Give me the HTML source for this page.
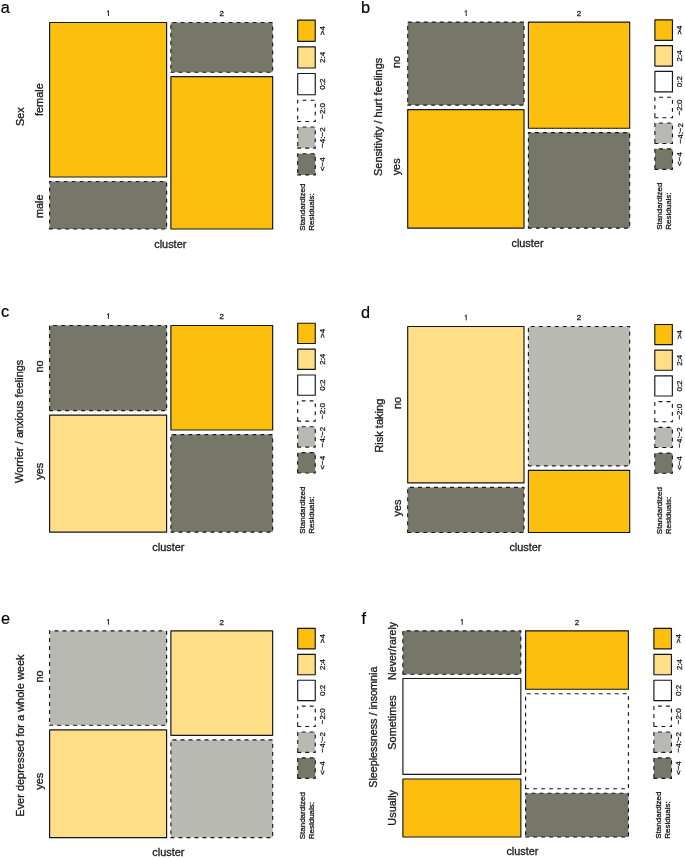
<!DOCTYPE html>
<html><head><meta charset="utf-8"><style>
html,body{margin:0;padding:0;background:#fff;}
svg{display:block;font-family:"Liberation Sans",sans-serif;}
</style></head><body>
<svg width="685" height="859" viewBox="0 0 685 859">
<defs><filter id="bl" x="0" y="0" width="685" height="859" filterUnits="userSpaceOnUse"><feGaussianBlur stdDeviation="0.3"/></filter></defs>
<rect width="685" height="859" fill="#fff"/>
<g filter="url(#bl)">
<text x="0.7" y="13.2" font-size="16.3" text-anchor="start" fill="#000" stroke="#000" stroke-width="0.20">a</text>
<path d="M49.60 177.00H166.60V22.50H49.60Z" fill="#FDBF11" stroke="#161616" stroke-width="1.15" stroke-linejoin="round"/>
<path d="M49.60 229.00H166.60V181.50H49.60Z" fill="#777769" stroke="#161616" stroke-width="1.15" stroke-linejoin="round" stroke-dasharray="3 5" stroke-linecap="round"/>
<path d="M170.90 72.20H272.65V22.50H170.90Z" fill="#777769" stroke="#161616" stroke-width="1.15" stroke-linejoin="round" stroke-dasharray="3 5" stroke-linecap="round"/>
<path d="M170.90 229.00H272.65V76.60H170.90Z" fill="#FDBF11" stroke="#161616" stroke-width="1.15" stroke-linejoin="round"/>
<path d="M108.45 16.00V10.45" fill="none" stroke="#1a1a1a" stroke-width="0.95"/>
<path d="M108.75 10.40Q108.35 11.40 106.90 11.65" fill="none" stroke="#1a1a1a" stroke-width="0.85"/>
<text x="221.77499999999998" y="16.0" font-size="8" text-anchor="middle" fill="#1a1a1a" stroke="#1a1a1a" stroke-width="0.30">2</text>
<text x="170.3" y="247.8" font-size="10.9" text-anchor="middle" fill="#1a1a1a" stroke="#1a1a1a" stroke-width="0.31">cluster</text>
<text x="23.6" y="116.6" font-size="10.9" text-anchor="middle" transform="rotate(-90 23.6 116.6)" fill="#1a1a1a" stroke="#1a1a1a" stroke-width="0.31">Sex</text>
<text x="43.0" y="99.6" font-size="10.9" text-anchor="middle" transform="rotate(-90 43.0 99.6)" fill="#1a1a1a" stroke="#1a1a1a" stroke-width="0.31">female</text>
<text x="43.0" y="206.2" font-size="10.9" text-anchor="middle" transform="rotate(-90 43.0 206.2)" fill="#1a1a1a" stroke="#1a1a1a" stroke-width="0.31">male</text>
<path d="M297.70 41.30H315.25V20.10H297.70Z" fill="#FDBF11" stroke="#161616" stroke-width="1.15" stroke-linejoin="round"/>
<text x="325.3" y="30.700000000000003" font-size="8" text-anchor="middle" transform="rotate(-90 325.3 30.700000000000003)" fill="#1a1a1a" stroke="#1a1a1a" stroke-width="0.30">&gt;4</text>
<path d="M297.70 68.02H315.25V46.82H297.70Z" fill="#FEDF87" stroke="#161616" stroke-width="1.15" stroke-linejoin="round"/>
<text x="325.3" y="57.42" font-size="8" text-anchor="middle" transform="rotate(-90 325.3 57.42)" fill="#1a1a1a" stroke="#1a1a1a" stroke-width="0.30">2:4</text>
<path d="M297.70 94.74H315.25V73.54H297.70Z" fill="#FFFFFF" stroke="#161616" stroke-width="1.15" stroke-linejoin="round"/>
<text x="325.3" y="84.13999999999999" font-size="8" text-anchor="middle" transform="rotate(-90 325.3 84.13999999999999)" fill="#1a1a1a" stroke="#1a1a1a" stroke-width="0.30">0:2</text>
<path d="M297.70 121.46H315.25V100.26H297.70Z" fill="#FFFFFF" stroke="#161616" stroke-width="1.15" stroke-linejoin="round" stroke-dasharray="3 5" stroke-linecap="round"/>
<text x="325.3" y="110.85999999999999" font-size="8" text-anchor="middle" transform="rotate(-90 325.3 110.85999999999999)" fill="#1a1a1a" stroke="#1a1a1a" stroke-width="0.30">−2:0</text>
<path d="M297.70 148.18H315.25V126.98H297.70Z" fill="#B9B9B4" stroke="#161616" stroke-width="1.15" stroke-linejoin="round" stroke-dasharray="3 5" stroke-linecap="round"/>
<text x="325.3" y="137.57999999999998" font-size="8" text-anchor="middle" transform="rotate(-90 325.3 137.57999999999998)" fill="#1a1a1a" stroke="#1a1a1a" stroke-width="0.30">−4:−2</text>
<path d="M297.70 174.90H315.25V153.70H297.70Z" fill="#777769" stroke="#161616" stroke-width="1.15" stroke-linejoin="round" stroke-dasharray="3 5" stroke-linecap="round"/>
<text x="325.3" y="164.29999999999998" font-size="8" text-anchor="middle" transform="rotate(-90 325.3 164.29999999999998)" fill="#1a1a1a" stroke="#1a1a1a" stroke-width="0.30">&lt;−4</text>
<text x="305.0" y="230.7" font-size="8" text-anchor="start" transform="rotate(-90 305.0 230.7)" fill="#1a1a1a" stroke="#1a1a1a" stroke-width="0.30">Standardized</text>
<text x="314.2" y="230.7" font-size="8" text-anchor="start" transform="rotate(-90 314.2 230.7)" fill="#1a1a1a" stroke="#1a1a1a" stroke-width="0.30">Residuals:</text>
<text x="361.0" y="13.2" font-size="16.3" text-anchor="start" fill="#000" stroke="#000" stroke-width="0.20">b</text>
<path d="M407.70 105.10H524.00V22.10H407.70Z" fill="#777769" stroke="#161616" stroke-width="1.15" stroke-linejoin="round" stroke-dasharray="3 5" stroke-linecap="round"/>
<path d="M407.70 228.05H524.00V109.60H407.70Z" fill="#FDBF11" stroke="#161616" stroke-width="1.15" stroke-linejoin="round"/>
<path d="M528.40 128.20H629.70V22.10H528.40Z" fill="#FDBF11" stroke="#161616" stroke-width="1.15" stroke-linejoin="round"/>
<path d="M528.40 228.05H629.70V132.60H528.40Z" fill="#777769" stroke="#161616" stroke-width="1.15" stroke-linejoin="round" stroke-dasharray="3 5" stroke-linecap="round"/>
<path d="M466.20 16.00V10.45" fill="none" stroke="#1a1a1a" stroke-width="0.95"/>
<path d="M466.50 10.40Q466.10 11.40 464.65 11.65" fill="none" stroke="#1a1a1a" stroke-width="0.85"/>
<text x="579.05" y="16.0" font-size="8" text-anchor="middle" fill="#1a1a1a" stroke="#1a1a1a" stroke-width="0.30">2</text>
<text x="527.5" y="246.5" font-size="10.9" text-anchor="middle" fill="#1a1a1a" stroke="#1a1a1a" stroke-width="0.31">cluster</text>
<text x="382.0" y="116.85" font-size="10.98" text-anchor="middle" transform="rotate(-90 382.0 116.85)" fill="#1a1a1a" stroke="#1a1a1a" stroke-width="0.31">Sensitivity / hurt feelings</text>
<text x="400.1" y="62" font-size="10.9" text-anchor="middle" transform="rotate(-90 400.1 62)" fill="#1a1a1a" stroke="#1a1a1a" stroke-width="0.31">no</text>
<text x="400.1" y="166.85" font-size="10.9" text-anchor="middle" transform="rotate(-90 400.1 166.85)" fill="#1a1a1a" stroke="#1a1a1a" stroke-width="0.31">yes</text>
<path d="M654.90 40.30H672.45V19.80H654.90Z" fill="#FDBF11" stroke="#161616" stroke-width="1.15" stroke-linejoin="round"/>
<text x="682.5" y="30.05" font-size="8" text-anchor="middle" transform="rotate(-90 682.5 30.05)" fill="#1a1a1a" stroke="#1a1a1a" stroke-width="0.30">&gt;4</text>
<path d="M654.90 66.10H672.45V45.60H654.90Z" fill="#FEDF87" stroke="#161616" stroke-width="1.15" stroke-linejoin="round"/>
<text x="682.5" y="55.85" font-size="8" text-anchor="middle" transform="rotate(-90 682.5 55.85)" fill="#1a1a1a" stroke="#1a1a1a" stroke-width="0.30">2:4</text>
<path d="M654.90 91.90H672.45V71.40H654.90Z" fill="#FFFFFF" stroke="#161616" stroke-width="1.15" stroke-linejoin="round"/>
<text x="682.5" y="81.65" font-size="8" text-anchor="middle" transform="rotate(-90 682.5 81.65)" fill="#1a1a1a" stroke="#1a1a1a" stroke-width="0.30">0:2</text>
<path d="M654.90 117.70H672.45V97.20H654.90Z" fill="#FFFFFF" stroke="#161616" stroke-width="1.15" stroke-linejoin="round" stroke-dasharray="3 5" stroke-linecap="round"/>
<text x="682.5" y="107.45" font-size="8" text-anchor="middle" transform="rotate(-90 682.5 107.45)" fill="#1a1a1a" stroke="#1a1a1a" stroke-width="0.30">−2:0</text>
<path d="M654.90 143.50H672.45V123.00H654.90Z" fill="#B9B9B4" stroke="#161616" stroke-width="1.15" stroke-linejoin="round" stroke-dasharray="3 5" stroke-linecap="round"/>
<text x="682.5" y="133.25" font-size="8" text-anchor="middle" transform="rotate(-90 682.5 133.25)" fill="#1a1a1a" stroke="#1a1a1a" stroke-width="0.30">−4:−2</text>
<path d="M654.90 169.30H672.45V148.80H654.90Z" fill="#777769" stroke="#161616" stroke-width="1.15" stroke-linejoin="round" stroke-dasharray="3 5" stroke-linecap="round"/>
<text x="682.5" y="159.05" font-size="8" text-anchor="middle" transform="rotate(-90 682.5 159.05)" fill="#1a1a1a" stroke="#1a1a1a" stroke-width="0.30">&lt;−4</text>
<text x="662.1999999999999" y="229.75" font-size="8" text-anchor="start" transform="rotate(-90 662.1999999999999 229.75)" fill="#1a1a1a" stroke="#1a1a1a" stroke-width="0.30">Standardized</text>
<text x="671.4" y="229.75" font-size="8" text-anchor="start" transform="rotate(-90 671.4 229.75)" fill="#1a1a1a" stroke="#1a1a1a" stroke-width="0.30">Residuals:</text>
<text x="1.0" y="316.6" font-size="16.3" text-anchor="start" fill="#000" stroke="#000" stroke-width="0.20">c</text>
<path d="M49.60 410.60H166.60V325.50H49.60Z" fill="#777769" stroke="#161616" stroke-width="1.15" stroke-linejoin="round" stroke-dasharray="3 5" stroke-linecap="round"/>
<path d="M49.60 532.10H166.60V415.10H49.60Z" fill="#FEDF87" stroke="#161616" stroke-width="1.15" stroke-linejoin="round"/>
<path d="M170.90 430.00H272.65V325.50H170.90Z" fill="#FDBF11" stroke="#161616" stroke-width="1.15" stroke-linejoin="round"/>
<path d="M170.90 532.10H272.65V434.60H170.90Z" fill="#777769" stroke="#161616" stroke-width="1.15" stroke-linejoin="round" stroke-dasharray="3 5" stroke-linecap="round"/>
<path d="M108.45 319.00V313.45" fill="none" stroke="#1a1a1a" stroke-width="0.95"/>
<path d="M108.75 313.40Q108.35 314.40 106.90 314.65" fill="none" stroke="#1a1a1a" stroke-width="0.85"/>
<text x="221.77499999999998" y="319" font-size="8" text-anchor="middle" fill="#1a1a1a" stroke="#1a1a1a" stroke-width="0.30">2</text>
<text x="168.4" y="550.6" font-size="10.9" text-anchor="middle" fill="#1a1a1a" stroke="#1a1a1a" stroke-width="0.31">cluster</text>
<text x="23.4" y="421.3" font-size="10.95" text-anchor="middle" transform="rotate(-90 23.4 421.3)" fill="#1a1a1a" stroke="#1a1a1a" stroke-width="0.31">Worrier / anxious feelings</text>
<text x="42.8" y="366.5" font-size="10.9" text-anchor="middle" transform="rotate(-90 42.8 366.5)" fill="#1a1a1a" stroke="#1a1a1a" stroke-width="0.31">no</text>
<text x="42.8" y="471.2" font-size="10.9" text-anchor="middle" transform="rotate(-90 42.8 471.2)" fill="#1a1a1a" stroke="#1a1a1a" stroke-width="0.31">yes</text>
<path d="M297.70 343.50H315.25V323.20H297.70Z" fill="#FDBF11" stroke="#161616" stroke-width="1.15" stroke-linejoin="round"/>
<text x="325.3" y="333.34999999999997" font-size="8" text-anchor="middle" transform="rotate(-90 325.3 333.34999999999997)" fill="#1a1a1a" stroke="#1a1a1a" stroke-width="0.30">&gt;4</text>
<path d="M297.70 369.39H315.25V349.09H297.70Z" fill="#FEDF87" stroke="#161616" stroke-width="1.15" stroke-linejoin="round"/>
<text x="325.3" y="359.23999999999995" font-size="8" text-anchor="middle" transform="rotate(-90 325.3 359.23999999999995)" fill="#1a1a1a" stroke="#1a1a1a" stroke-width="0.30">2:4</text>
<path d="M297.70 395.28H315.25V374.98H297.70Z" fill="#FFFFFF" stroke="#161616" stroke-width="1.15" stroke-linejoin="round"/>
<text x="325.3" y="385.13" font-size="8" text-anchor="middle" transform="rotate(-90 325.3 385.13)" fill="#1a1a1a" stroke="#1a1a1a" stroke-width="0.30">0:2</text>
<path d="M297.70 421.17H315.25V400.87H297.70Z" fill="#FFFFFF" stroke="#161616" stroke-width="1.15" stroke-linejoin="round" stroke-dasharray="3 5" stroke-linecap="round"/>
<text x="325.3" y="411.02" font-size="8" text-anchor="middle" transform="rotate(-90 325.3 411.02)" fill="#1a1a1a" stroke="#1a1a1a" stroke-width="0.30">−2:0</text>
<path d="M297.70 447.06H315.25V426.76H297.70Z" fill="#B9B9B4" stroke="#161616" stroke-width="1.15" stroke-linejoin="round" stroke-dasharray="3 5" stroke-linecap="round"/>
<text x="325.3" y="436.90999999999997" font-size="8" text-anchor="middle" transform="rotate(-90 325.3 436.90999999999997)" fill="#1a1a1a" stroke="#1a1a1a" stroke-width="0.30">−4:−2</text>
<path d="M297.70 472.95H315.25V452.65H297.70Z" fill="#777769" stroke="#161616" stroke-width="1.15" stroke-linejoin="round" stroke-dasharray="3 5" stroke-linecap="round"/>
<text x="325.3" y="462.79999999999995" font-size="8" text-anchor="middle" transform="rotate(-90 325.3 462.79999999999995)" fill="#1a1a1a" stroke="#1a1a1a" stroke-width="0.30">&lt;−4</text>
<text x="305.0" y="533.8000000000001" font-size="8" text-anchor="start" transform="rotate(-90 305.0 533.8000000000001)" fill="#1a1a1a" stroke="#1a1a1a" stroke-width="0.30">Standardized</text>
<text x="314.2" y="533.8000000000001" font-size="8" text-anchor="start" transform="rotate(-90 314.2 533.8000000000001)" fill="#1a1a1a" stroke="#1a1a1a" stroke-width="0.30">Residuals:</text>
<text x="361.0" y="317.5" font-size="16.3" text-anchor="start" fill="#000" stroke="#000" stroke-width="0.20">d</text>
<path d="M407.70 482.90H524.00V326.50H407.70Z" fill="#FEDF87" stroke="#161616" stroke-width="1.15" stroke-linejoin="round"/>
<path d="M407.70 532.50H524.00V487.40H407.70Z" fill="#777769" stroke="#161616" stroke-width="1.15" stroke-linejoin="round" stroke-dasharray="3 5" stroke-linecap="round"/>
<path d="M528.40 465.80H629.70V326.50H528.40Z" fill="#B9B9B4" stroke="#161616" stroke-width="1.15" stroke-linejoin="round" stroke-dasharray="3 5" stroke-linecap="round"/>
<path d="M528.40 532.50H629.70V470.40H528.40Z" fill="#FDBF11" stroke="#161616" stroke-width="1.15" stroke-linejoin="round"/>
<path d="M466.20 320.40V314.85" fill="none" stroke="#1a1a1a" stroke-width="0.95"/>
<path d="M466.50 314.80Q466.10 315.80 464.65 316.05" fill="none" stroke="#1a1a1a" stroke-width="0.85"/>
<text x="579.05" y="320.4" font-size="8" text-anchor="middle" fill="#1a1a1a" stroke="#1a1a1a" stroke-width="0.30">2</text>
<text x="525.45" y="550.65" font-size="10.9" text-anchor="middle" fill="#1a1a1a" stroke="#1a1a1a" stroke-width="0.31">cluster</text>
<text x="382.7" y="425.7" font-size="11.04" text-anchor="middle" transform="rotate(-90 382.7 425.7)" fill="#1a1a1a" stroke="#1a1a1a" stroke-width="0.31">Risk taking</text>
<text x="400.8" y="403" font-size="10.9" text-anchor="middle" transform="rotate(-90 400.8 403)" fill="#1a1a1a" stroke="#1a1a1a" stroke-width="0.31">no</text>
<text x="400.8" y="508" font-size="10.9" text-anchor="middle" transform="rotate(-90 400.8 508)" fill="#1a1a1a" stroke="#1a1a1a" stroke-width="0.31">yes</text>
<path d="M654.80 344.55H672.35V324.45H654.80Z" fill="#FDBF11" stroke="#161616" stroke-width="1.15" stroke-linejoin="round"/>
<text x="682.4" y="334.5" font-size="8" text-anchor="middle" transform="rotate(-90 682.4 334.5)" fill="#1a1a1a" stroke="#1a1a1a" stroke-width="0.30">&gt;4</text>
<path d="M654.80 370.29H672.35V350.19H654.80Z" fill="#FEDF87" stroke="#161616" stroke-width="1.15" stroke-linejoin="round"/>
<text x="682.4" y="360.24" font-size="8" text-anchor="middle" transform="rotate(-90 682.4 360.24)" fill="#1a1a1a" stroke="#1a1a1a" stroke-width="0.30">2:4</text>
<path d="M654.80 396.03H672.35V375.93H654.80Z" fill="#FFFFFF" stroke="#161616" stroke-width="1.15" stroke-linejoin="round"/>
<text x="682.4" y="385.98" font-size="8" text-anchor="middle" transform="rotate(-90 682.4 385.98)" fill="#1a1a1a" stroke="#1a1a1a" stroke-width="0.30">0:2</text>
<path d="M654.80 421.77H672.35V401.67H654.80Z" fill="#FFFFFF" stroke="#161616" stroke-width="1.15" stroke-linejoin="round" stroke-dasharray="3 5" stroke-linecap="round"/>
<text x="682.4" y="411.71999999999997" font-size="8" text-anchor="middle" transform="rotate(-90 682.4 411.71999999999997)" fill="#1a1a1a" stroke="#1a1a1a" stroke-width="0.30">−2:0</text>
<path d="M654.80 447.51H672.35V427.41H654.80Z" fill="#B9B9B4" stroke="#161616" stroke-width="1.15" stroke-linejoin="round" stroke-dasharray="3 5" stroke-linecap="round"/>
<text x="682.4" y="437.46" font-size="8" text-anchor="middle" transform="rotate(-90 682.4 437.46)" fill="#1a1a1a" stroke="#1a1a1a" stroke-width="0.30">−4:−2</text>
<path d="M654.80 473.25H672.35V453.15H654.80Z" fill="#777769" stroke="#161616" stroke-width="1.15" stroke-linejoin="round" stroke-dasharray="3 5" stroke-linecap="round"/>
<text x="682.4" y="463.2" font-size="8" text-anchor="middle" transform="rotate(-90 682.4 463.2)" fill="#1a1a1a" stroke="#1a1a1a" stroke-width="0.30">&lt;−4</text>
<text x="662.0999999999999" y="534.2" font-size="8" text-anchor="start" transform="rotate(-90 662.0999999999999 534.2)" fill="#1a1a1a" stroke="#1a1a1a" stroke-width="0.30">Standardized</text>
<text x="671.3" y="534.2" font-size="8" text-anchor="start" transform="rotate(-90 671.3 534.2)" fill="#1a1a1a" stroke="#1a1a1a" stroke-width="0.30">Residuals:</text>
<text x="1.0" y="624.2" font-size="16.3" text-anchor="start" fill="#000" stroke="#000" stroke-width="0.20">e</text>
<path d="M49.60 725.20H166.60V630.85H49.60Z" fill="#B9B9B4" stroke="#161616" stroke-width="1.15" stroke-linejoin="round" stroke-dasharray="3 5" stroke-linecap="round"/>
<path d="M49.60 837.60H166.60V729.80H49.60Z" fill="#FEDF87" stroke="#161616" stroke-width="1.15" stroke-linejoin="round"/>
<path d="M170.90 735.30H272.65V630.85H170.90Z" fill="#FEDF87" stroke="#161616" stroke-width="1.15" stroke-linejoin="round"/>
<path d="M170.90 837.60H272.65V739.90H170.90Z" fill="#B9B9B4" stroke="#161616" stroke-width="1.15" stroke-linejoin="round" stroke-dasharray="3 5" stroke-linecap="round"/>
<path d="M108.45 624.70V619.15" fill="none" stroke="#1a1a1a" stroke-width="0.95"/>
<path d="M108.75 619.10Q108.35 620.10 106.90 620.35" fill="none" stroke="#1a1a1a" stroke-width="0.85"/>
<text x="221.77499999999998" y="624.7" font-size="8" text-anchor="middle" fill="#1a1a1a" stroke="#1a1a1a" stroke-width="0.30">2</text>
<text x="168.4" y="855.6" font-size="10.9" text-anchor="middle" fill="#1a1a1a" stroke="#1a1a1a" stroke-width="0.31">cluster</text>
<text x="23.6" y="735.6" font-size="10.98" text-anchor="middle" transform="rotate(-90 23.6 735.6)" fill="#1a1a1a" stroke="#1a1a1a" stroke-width="0.31">Ever depressed for a whole week</text>
<text x="42.8" y="676.4" font-size="10.9" text-anchor="middle" transform="rotate(-90 42.8 676.4)" fill="#1a1a1a" stroke="#1a1a1a" stroke-width="0.31">no</text>
<text x="42.8" y="781.3" font-size="10.9" text-anchor="middle" transform="rotate(-90 42.8 781.3)" fill="#1a1a1a" stroke="#1a1a1a" stroke-width="0.31">yes</text>
<path d="M297.70 648.80H315.25V628.40H297.70Z" fill="#FDBF11" stroke="#161616" stroke-width="1.15" stroke-linejoin="round"/>
<text x="325.3" y="638.6" font-size="8" text-anchor="middle" transform="rotate(-90 325.3 638.6)" fill="#1a1a1a" stroke="#1a1a1a" stroke-width="0.30">&gt;4</text>
<path d="M297.70 674.70H315.25V654.30H297.70Z" fill="#FEDF87" stroke="#161616" stroke-width="1.15" stroke-linejoin="round"/>
<text x="325.3" y="664.5" font-size="8" text-anchor="middle" transform="rotate(-90 325.3 664.5)" fill="#1a1a1a" stroke="#1a1a1a" stroke-width="0.30">2:4</text>
<path d="M297.70 700.60H315.25V680.20H297.70Z" fill="#FFFFFF" stroke="#161616" stroke-width="1.15" stroke-linejoin="round"/>
<text x="325.3" y="690.4" font-size="8" text-anchor="middle" transform="rotate(-90 325.3 690.4)" fill="#1a1a1a" stroke="#1a1a1a" stroke-width="0.30">0:2</text>
<path d="M297.70 726.50H315.25V706.10H297.70Z" fill="#FFFFFF" stroke="#161616" stroke-width="1.15" stroke-linejoin="round" stroke-dasharray="3 5" stroke-linecap="round"/>
<text x="325.3" y="716.3" font-size="8" text-anchor="middle" transform="rotate(-90 325.3 716.3)" fill="#1a1a1a" stroke="#1a1a1a" stroke-width="0.30">−2:0</text>
<path d="M297.70 752.40H315.25V732.00H297.70Z" fill="#B9B9B4" stroke="#161616" stroke-width="1.15" stroke-linejoin="round" stroke-dasharray="3 5" stroke-linecap="round"/>
<text x="325.3" y="742.2" font-size="8" text-anchor="middle" transform="rotate(-90 325.3 742.2)" fill="#1a1a1a" stroke="#1a1a1a" stroke-width="0.30">−4:−2</text>
<path d="M297.70 778.30H315.25V757.90H297.70Z" fill="#777769" stroke="#161616" stroke-width="1.15" stroke-linejoin="round" stroke-dasharray="3 5" stroke-linecap="round"/>
<text x="325.3" y="768.1" font-size="8" text-anchor="middle" transform="rotate(-90 325.3 768.1)" fill="#1a1a1a" stroke="#1a1a1a" stroke-width="0.30">&lt;−4</text>
<text x="305.0" y="839.3000000000001" font-size="8" text-anchor="start" transform="rotate(-90 305.0 839.3000000000001)" fill="#1a1a1a" stroke="#1a1a1a" stroke-width="0.30">Standardized</text>
<text x="314.2" y="839.3000000000001" font-size="8" text-anchor="start" transform="rotate(-90 314.2 839.3000000000001)" fill="#1a1a1a" stroke="#1a1a1a" stroke-width="0.30">Residuals:</text>
<text x="361.6" y="624.1" font-size="16.3" text-anchor="start" fill="#000" stroke="#000" stroke-width="0.20">f</text>
<path d="M402.90 674.20H520.85V630.85H402.90Z" fill="#777769" stroke="#161616" stroke-width="1.15" stroke-linejoin="round" stroke-dasharray="3 5" stroke-linecap="round"/>
<path d="M402.90 774.40H520.85V678.50H402.90Z" fill="#FFFFFF" stroke="#161616" stroke-width="1.15" stroke-linejoin="round"/>
<path d="M402.90 837.00H520.85V779.00H402.90Z" fill="#FDBF11" stroke="#161616" stroke-width="1.15" stroke-linejoin="round"/>
<path d="M525.60 689.20H628.40V630.85H525.60Z" fill="#FDBF11" stroke="#161616" stroke-width="1.15" stroke-linejoin="round"/>
<path d="M525.60 788.70H628.40V693.70H525.60Z" fill="#FFFFFF" stroke="#161616" stroke-width="1.15" stroke-linejoin="round" stroke-dasharray="3 5" stroke-linecap="round"/>
<path d="M525.60 837.00H628.40V793.20H525.60Z" fill="#777769" stroke="#161616" stroke-width="1.15" stroke-linejoin="round" stroke-dasharray="3 5" stroke-linecap="round"/>
<path d="M462.23 624.80V619.25" fill="none" stroke="#1a1a1a" stroke-width="0.95"/>
<path d="M462.53 619.20Q462.12 620.20 460.68 620.45" fill="none" stroke="#1a1a1a" stroke-width="0.85"/>
<text x="577.0" y="624.8" font-size="8" text-anchor="middle" fill="#1a1a1a" stroke="#1a1a1a" stroke-width="0.30">2</text>
<text x="522.45" y="855.35" font-size="10.9" text-anchor="middle" fill="#1a1a1a" stroke="#1a1a1a" stroke-width="0.31">cluster</text>
<text x="377" y="727.2" font-size="10.74" text-anchor="middle" transform="rotate(-90 377 727.2)" fill="#1a1a1a" stroke="#1a1a1a" stroke-width="0.30">Sleeplessness / insomnia</text>
<text x="396" y="650.9" font-size="10.65" text-anchor="middle" transform="rotate(-90 396 650.9)" fill="#1a1a1a" stroke="#1a1a1a" stroke-width="0.30">Never/rarely</text>
<text x="396" y="722.4" font-size="10.9" text-anchor="middle" transform="rotate(-90 396 722.4)" fill="#1a1a1a" stroke="#1a1a1a" stroke-width="0.31">Sometimes</text>
<text x="396" y="807.8" font-size="10.9" text-anchor="middle" transform="rotate(-90 396 807.8)" fill="#1a1a1a" stroke="#1a1a1a" stroke-width="0.31">Usually</text>
<path d="M653.90 648.80H671.45V628.40H653.90Z" fill="#FDBF11" stroke="#161616" stroke-width="1.15" stroke-linejoin="round"/>
<text x="681.5" y="638.6" font-size="8" text-anchor="middle" transform="rotate(-90 681.5 638.6)" fill="#1a1a1a" stroke="#1a1a1a" stroke-width="0.30">&gt;4</text>
<path d="M653.90 674.70H671.45V654.30H653.90Z" fill="#FEDF87" stroke="#161616" stroke-width="1.15" stroke-linejoin="round"/>
<text x="681.5" y="664.5" font-size="8" text-anchor="middle" transform="rotate(-90 681.5 664.5)" fill="#1a1a1a" stroke="#1a1a1a" stroke-width="0.30">2:4</text>
<path d="M653.90 700.60H671.45V680.20H653.90Z" fill="#FFFFFF" stroke="#161616" stroke-width="1.15" stroke-linejoin="round"/>
<text x="681.5" y="690.4" font-size="8" text-anchor="middle" transform="rotate(-90 681.5 690.4)" fill="#1a1a1a" stroke="#1a1a1a" stroke-width="0.30">0:2</text>
<path d="M653.90 726.50H671.45V706.10H653.90Z" fill="#FFFFFF" stroke="#161616" stroke-width="1.15" stroke-linejoin="round" stroke-dasharray="3 5" stroke-linecap="round"/>
<text x="681.5" y="716.3" font-size="8" text-anchor="middle" transform="rotate(-90 681.5 716.3)" fill="#1a1a1a" stroke="#1a1a1a" stroke-width="0.30">−2:0</text>
<path d="M653.90 752.40H671.45V732.00H653.90Z" fill="#B9B9B4" stroke="#161616" stroke-width="1.15" stroke-linejoin="round" stroke-dasharray="3 5" stroke-linecap="round"/>
<text x="681.5" y="742.2" font-size="8" text-anchor="middle" transform="rotate(-90 681.5 742.2)" fill="#1a1a1a" stroke="#1a1a1a" stroke-width="0.30">−4:−2</text>
<path d="M653.90 778.30H671.45V757.90H653.90Z" fill="#777769" stroke="#161616" stroke-width="1.15" stroke-linejoin="round" stroke-dasharray="3 5" stroke-linecap="round"/>
<text x="681.5" y="768.1" font-size="8" text-anchor="middle" transform="rotate(-90 681.5 768.1)" fill="#1a1a1a" stroke="#1a1a1a" stroke-width="0.30">&lt;−4</text>
<text x="661.1999999999999" y="838.7" font-size="8" text-anchor="start" transform="rotate(-90 661.1999999999999 838.7)" fill="#1a1a1a" stroke="#1a1a1a" stroke-width="0.30">Standardized</text>
<text x="670.4" y="838.7" font-size="8" text-anchor="start" transform="rotate(-90 670.4 838.7)" fill="#1a1a1a" stroke="#1a1a1a" stroke-width="0.30">Residuals:</text>
</g>
</svg></body></html>
